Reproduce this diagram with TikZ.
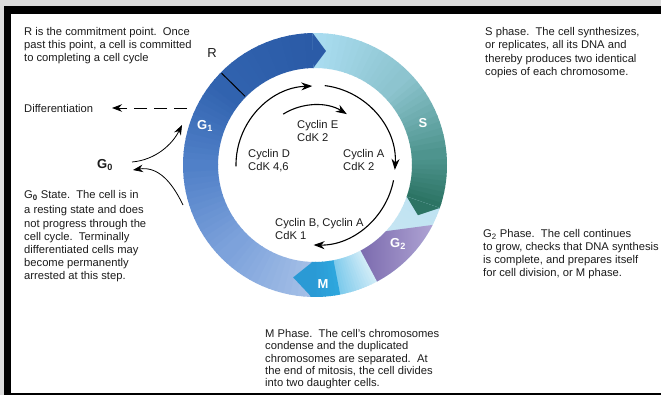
\documentclass[tikz,border=0pt]{standalone}
\usepackage{fontspec}
\setmainfont{Liberation Sans}
\usetikzlibrary{arrows.meta}
\definecolor{textc}{HTML}{1C1C1C}
\definecolor{bggray}{HTML}{DCDCDC}
\definecolor{gA}{HTML}{A4BFE7}
\definecolor{gB}{HTML}{7DA2DB}
\definecolor{gC}{HTML}{5080C8}
\definecolor{gD}{HTML}{3163AF}
\definecolor{gE}{HTML}{2B5BA7}
\definecolor{sA}{HTML}{AADDF1}
\definecolor{sB}{HTML}{8DC4CF}
\definecolor{sC}{HTML}{4E948E}
\definecolor{sD}{HTML}{2C7464}
\definecolor{tA}{HTML}{BFE3F2}
\definecolor{tB}{HTML}{CDE7F3}
\definecolor{pA}{HTML}{AEA3D3}
\definecolor{pB}{HTML}{7A69AD}
\definecolor{mA}{HTML}{CFEBF7}
\definecolor{mB}{HTML}{7FCBEC}
\definecolor{mC}{HTML}{2EA6DD}
\definecolor{mD}{HTML}{2A9AD5}
\newcommand\ringseg[5]{%
  \foreach \ii in {1,...,#5}{%
    \pgfmathsetmacro\segA{#1-(#1-#2)*(\ii-1)/#5}%
    \pgfmathsetmacro\segB{#1-(#1-#2)*\ii/#5-0.5}%
    \pgfmathtruncatemacro\segP{100*(\ii-1)/(#5-1)}%
    \colorlet{segc}{#4!\segP!#3}%
    \fill[segc] (\segA:97) arc[start angle=\segA,end angle=\segB,radius=97]
      -- (\segB:132) arc[start angle=\segB,end angle=\segA,radius=132] -- cycle;
  }}
\newcommand\ringtip[3]{%
  \pgfmathsetmacro\tipA{#1-#3}%
  \fill[#2] (#1:132) -- (\tipA:114.5) -- (#1:97) -- cycle;}
\begin{document}
\begin{tikzpicture}[x=1pt,y=-1pt,
  txt/.style={anchor=north west, inner sep=0pt, align=left,
    font=\fontsize{11.2}{13.1}\selectfont, text=textc},
  phase/.style={text=white, font=\fontsize{13}{13}\selectfont\bfseries, inner sep=0pt},
  arr/.style={line width=1.1pt, -{Stealth[length=11pt,width=8pt]}},
  thinarr/.style={line width=0.8pt, -{Stealth[length=10pt,width=7.5pt]}}]
\useasboundingbox (0,0) rectangle (661,395);
% frame
\fill[bggray] (0,0) rectangle (661,395);
\fill[black] (4,6) rectangle (661,395);
\fill[white] (11,14) rectangle (661,393);
% ring
\begin{scope}[shift={(315,165)}, yscale=-1]
  % G1
  \ringseg{268.5}{225}{gA}{gB}{14}
  \ringseg{225}{180}{gB}{gC}{15}
  \ringseg{180}{140}{gC}{gD}{14}
  \ringseg{140}{91}{gD}{gE}{14}
  % S
  \ringseg{91}{45}{sA}{sB}{15}
  \ringseg{45}{5}{sB}{sC}{14}
  \ringseg{5}{-19}{sC}{sD}{10}
  % G2
  \ringseg{-19}{-62}{tA}{tB}{12}
  \shade[left color=pB, right color=pA]
    (-27:132) arc[start angle=-27,end angle=-62,radius=132]
    -- (-68:114.5) -- (-62:97) arc[start angle=-62,end angle=-43,radius=97] -- cycle;
  % M
  \ringseg{-62}{-79}{mA}{mB}{14}
  \ringseg{-79}{-91.5}{mC}{mD}{6}
  % tips
  \ringtip{91}{gE}{6.5}
  \ringtip{-19}{sD}{7}
  \ringtip{-91.5}{mD}{9.5}
  \draw[black, line width=1pt] (135.5:98) -- (135.5:131);
  \draw[arr] (181:79) arc[start angle=181,end angle=92,radius=79];
  \draw[arr] (83:80) arc[start angle=83,end angle=-3.5,radius=80];
  \draw[arr] (-11:80) arc[start angle=-11,end angle=-91,radius=80];
  \draw[arr] (122:60) arc[start angle=122,end angle=58,radius=60];
\end{scope}
% phase labels
\node[phase] (lg1) at (205,126) {G\textsubscript{1}};
\node[phase] (ls) at (423,123) {S};
\node[phase] (lg2) at (398,244) {G\textsubscript{2}};
\node[phase] (lm) at (323,284) {M};
\node[text=textc, font=\fontsize{13}{13}\selectfont, inner sep=0pt] (lr) at (212,53) {R};
% cyclin labels
\node[txt] (ce) at (297,120) {Cyclin E\\CdK 2};
\node[txt] (cd) at (248,149.5) {Cyclin D\\CdK 4,6};
\node[txt] (ca) at (343,149.5) {Cyclin A\\CdK 2};
\node[txt] (cb) at (275,218.5) {Cyclin B, Cyclin A\\CdK 1};
% side texts
\node[txt] (rtext) at (24,27) {R is the commitment point.\ \ Once\\past this point, a cell is committed\\to completing a cell cycle};
\node[txt] (stext) at (485,27.5) {S phase.\ \ The cell synthesizes,\\or replicates, all its DNA and\\thereby produces two identical\\copies of each chromosome.};
\node[txt] (g0text) at (24,190.5) {G\textsubscript{\bfseries 0} State.\ \ The cell is in\\[2pt]a resting state and does\\not progress through the\\cell cycle.\ \ Terminally\\differentiated cells may\\become permanently\\arrested at this step.};
\node[txt] (g2text) at (483,229) {G\textsubscript{2} Phase.\ \ The cell continues\\to grow, checks that DNA synthesis\\is complete, and prepares itself\\for cell division, or M phase.};
\node[txt, font=\fontsize{11.2}{12.4}\selectfont] (mtext) at (265,329) {M Phase.\ \ The cell's chromosomes\\condense and the duplicated\\chromosomes are separated.\ \ At\\the end of mitosis, the cell divides\\into two daughter cells.};
\node[txt, anchor=west] (diff) at (24,108) {Differentiation};
\node[text=textc, font=\fontsize{13}{13}\selectfont\bfseries, inner sep=0pt] (g0) at (105,165) {G\textsubscript{0}};
% connectors
\coordinate (dstart) at (187,108);
\coordinate (dend) at (112,108);
\draw[thinarr, dash pattern=on 13pt off 7pt] (dstart) -- (dend);
\coordinate (g0out) at (132,162);
\coordinate (ringa) at (182,125);
\coordinate (ringb) at (183,205);
\coordinate (g0in) at (133,170);
\draw[thinarr] (g0out) .. controls (155,160) and (172,145) .. (ringa);
\draw[thinarr] (ringb) .. controls (172,182) and (158,166) .. (g0in);
\end{tikzpicture}
\end{document}
